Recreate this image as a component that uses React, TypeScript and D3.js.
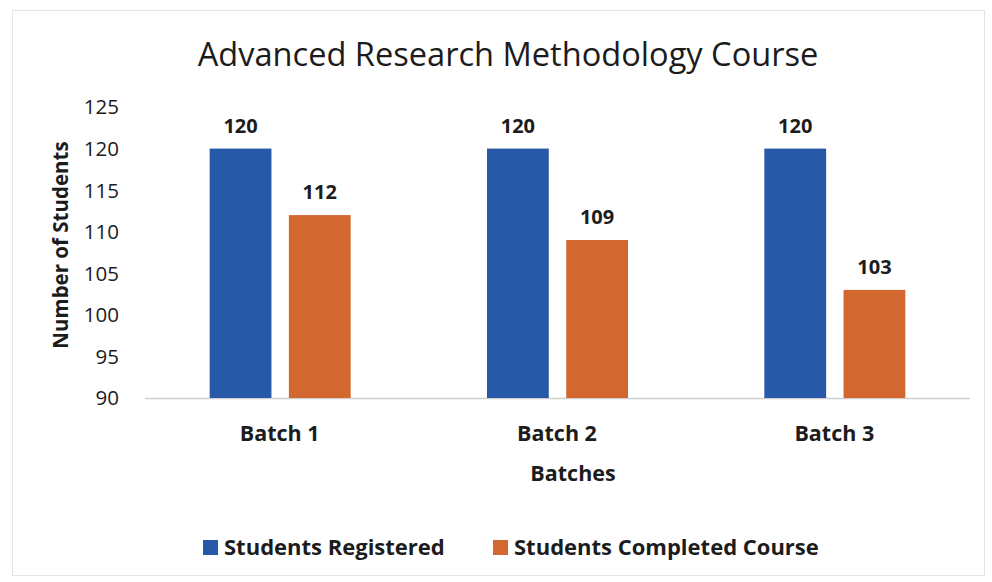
import React, { useEffect, useRef } from 'react'
import * as d3 from 'd3'

const batches = ['Batch 1', 'Batch 2', 'Batch 3']
const seriesNames = ['Students Registered', 'Students Completed Course']
const registered = [120, 120, 120]
const completed = [112, 109, 103]
const yTicks = [90, 95, 100, 105, 110, 115, 120, 125]
const colors = ['#2859a9', '#d2672f']

const FONT = '"Open Sans", Lato, sans-serif'

function App () {
  const ref = useRef<SVGSVGElement>(null)

  useEffect(() => {
    const svg = d3.select(ref.current)
    svg.selectAll('*').remove()

    const width = 992
    const height = 582
    const margin = { top: 107, right: 19, bottom: 184, left: 141 }
    const innerW = width - margin.left - margin.right
    const innerH = height - margin.top - margin.bottom

    // faint frame around the chart
    svg.append('rect')
      .attr('x', 12.5).attr('y', 10.5)
      .attr('width', 972).attr('height', 565)
      .attr('fill', '#fff')
      .attr('stroke', '#e4e4e4')

    svg.append('text')
      .attr('x', 508).attr('y', 66)
      .attr('text-anchor', 'middle')
      .style('font-family', FONT)
      .style('font-size', '32.6px')
      .attr('fill', '#1c1c1c')
      .text('Advanced Research Methodology Course')

    const g = svg.append('g')
      .attr('transform', 'translate(' + margin.left + ',' + margin.top + ')')

    const x = d3.scaleBand().domain(batches).range([0, innerW]).padding(0)
    const x1 = d3.scaleBand().domain(seriesNames).range([0, 141]).paddingInner(0.22)
    const y = d3.scaleLinear().domain([90, 125]).range([innerH, 0])

    // y tick labels
    g.append('g')
      .selectAll('text')
      .data(yTicks)
      .enter()
      .append('text')
      .attr('x', -22)
      .attr('y', d => y(d))
      .attr('dy', '0.36em')
      .attr('text-anchor', 'end')
      .style('font-family', FONT)
      .style('font-size', '20.5px')
      .attr('fill', '#1c1c1c')
      .text(d => d)

    // baseline
    g.append('line')
      .attr('x1', 4).attr('x2', innerW - 3)
      .attr('y1', y(90) + 0.5).attr('y2', y(90) + 0.5)
      .attr('stroke', '#cfcfcf')
      .attr('stroke-width', 1.5)

    const data = batches.map((b, i) => ({ batch: b, values: [registered[i], completed[i]] }))

    const groups = g.append('g')
      .selectAll('g')
      .data(data)
      .enter()
      .append('g')
      .attr('transform', d => 'translate(' + ((x(d.batch) as number) + x.bandwidth() / 2 - 70) + ',0)')

    groups.selectAll('rect')
      .data(d => d.values.map((v, j) => ({ v, name: seriesNames[j], j })))
      .enter()
      .append('rect')
      .attr('x', d => x1(d.name) as number)
      .attr('y', d => y(d.v))
      .attr('width', x1.bandwidth())
      .attr('height', d => y(90) - y(d.v))
      .attr('fill', d => colors[d.j])

    groups.selectAll('text')
      .data(d => d.values.map((v, j) => ({ v, name: seriesNames[j] })))
      .enter()
      .append('text')
      .attr('x', d => (x1(d.name) as number) + x1.bandwidth() / 2)
      .attr('y', d => y(d.v) - 16)
      .attr('text-anchor', 'middle')
      .style('font-family', FONT)
      .style('font-size', '20px')
      .style('font-weight', 'bold')
      .attr('fill', '#1c1c1c')
      .text(d => d.v)

    // category labels
    g.append('g')
      .selectAll('text')
      .data(batches)
      .enter()
      .append('text')
      .attr('x', d => (x(d) as number) + x.bandwidth() / 2)
      .attr('y', innerH + 43)
      .attr('text-anchor', 'middle')
      .style('font-family', FONT)
      .style('font-size', '21.5px')
      .style('font-weight', 'bold')
      .attr('fill', '#1c1c1c')
      .text(d => d)

    g.append('text')
      .attr('x', innerW / 2 + 16)
      .attr('y', innerH + 83)
      .attr('text-anchor', 'middle')
      .style('font-family', FONT)
      .style('font-size', '21.5px')
      .style('font-weight', 'bold')
      .attr('fill', '#1c1c1c')
      .text('Batches')

    svg.append('g')
      .attr('transform', 'translate(68,245)')
      .append('text')
      .attr('text-anchor', 'middle')
      .attr('transform', 'rotate(-90)')
      .style('font-family', FONT)
      .style('font-size', '20.5px')
      .style('font-weight', 'bold')
      .attr('fill', '#1c1c1c')
      .text('Number of Students')

    // legend
    const legendX = [203, 493]
    const legend = svg.append('g')
      .selectAll('g')
      .data(seriesNames)
      .enter()
      .append('g')
      .attr('transform', (d, i) => 'translate(' + legendX[i] + ',547)')
    legend.append('rect')
      .attr('x', 0).attr('y', -7)
      .attr('width', 15).attr('height', 15)
      .attr('fill', (d, i) => colors[i])
    legend.append('text')
      .attr('x', 21)
      .attr('dy', '0.36em')
      .style('font-family', FONT)
      .style('font-size', '22px')
      .style('font-weight', 'bold')
      .attr('fill', '#1c1c1c')
      .text(d => d)
  }, [])

  return (
    <svg
      ref={ref}
      width={992}
      height={582}
      style={{ position: 'absolute', left: 0, top: 0, background: '#fff' }}
    />
  )
}

export default App
